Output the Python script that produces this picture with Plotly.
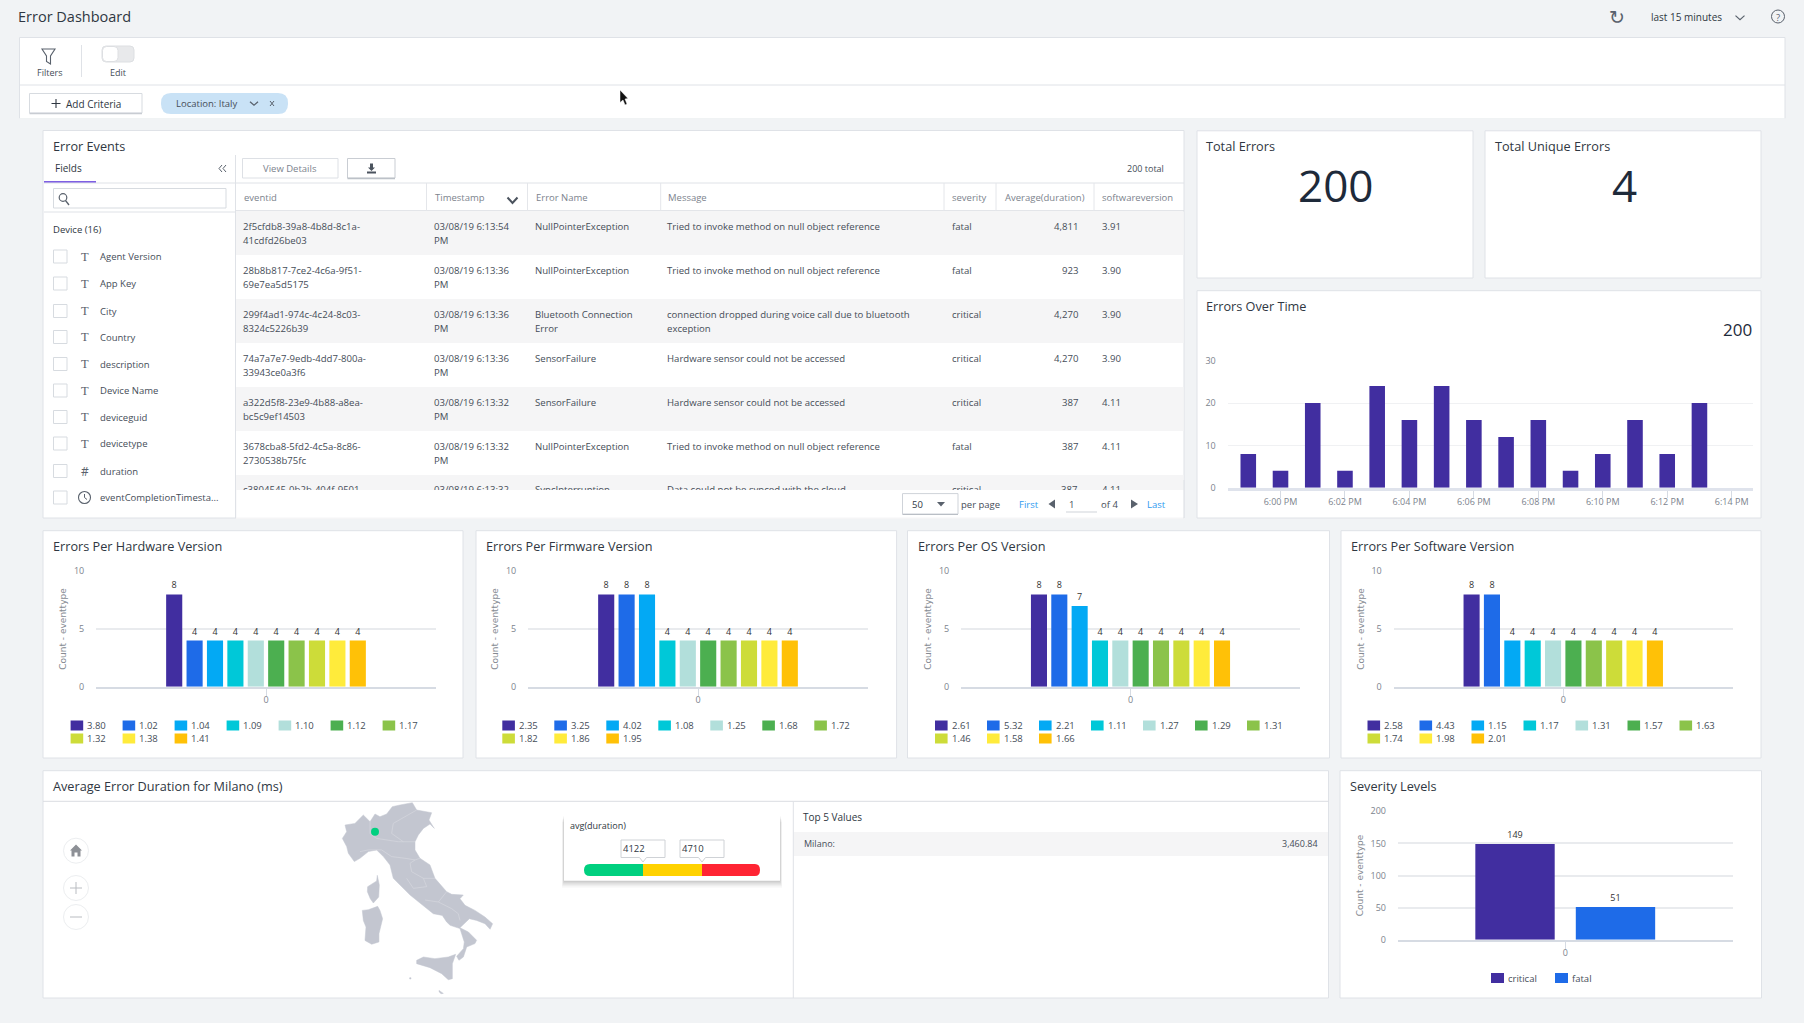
import plotly.graph_objects as go

# ---------- data ----------
PALETTE = ["#412ea0", "#1e6be8", "#03a9f4", "#00c8d8", "#b2dfdb", "#4caf50", "#8bc34a", "#cddc39", "#ffeb3b", "#ffc107"]

hw_versions = ["3.80", "1.02", "1.04", "1.09", "1.10", "1.12", "1.17", "1.32", "1.38", "1.41"]
hw_counts = [8, 4, 4, 4, 4, 4, 4, 4, 4, 4]
fw_versions = ["2.35", "3.25", "4.02", "1.08", "1.25", "1.68", "1.72", "1.82", "1.86", "1.95"]
fw_counts = [8, 8, 8, 4, 4, 4, 4, 4, 4, 4]
os_versions = ["2.61", "5.32", "2.21", "1.11", "1.27", "1.29", "1.31", "1.46", "1.58", "1.66"]
os_counts = [8, 8, 7, 4, 4, 4, 4, 4, 4, 4]
sw_versions = ["2.58", "4.43", "1.15", "1.17", "1.31", "1.57", "1.63", "1.74", "1.98", "2.01"]
sw_counts = [8, 8, 4, 4, 4, 4, 4, 4, 4, 4]

severity_levels = ["critical", "fatal"]
severity_counts = [149, 51]

time_minutes = ["17:59", "18:00", "18:01", "18:02", "18:03", "18:04", "18:05", "18:06",
                "18:07", "18:08", "18:09", "18:10", "18:11", "18:12", "18:13"]
time_counts = [8, 4, 20, 4, 24, 16, 24, 16, 12, 16, 4, 8, 16, 8, 20]

table_headers = ["eventid", "Timestamp", "Error Name", "Message", "severity", "Average(duration)", "softwareversion"]
event_ids = ["2f5cfdb8-39a8-4b8d-8c1a-<br>41cdfd26be03", "28b8b817-7ce2-4c6a-9f51-<br>69e7ea5d5175",
             "299f4ad1-974c-4c24-8c03-<br>8324c5226b39", "74a7a7e7-9edb-4dd7-800a-<br>33943ce0a3f6",
             "a322d5f8-23e9-4b88-a8ea-<br>bc5c9ef14503", "3678cba8-5fd2-4c5a-8c86-<br>2730538b75fc"]
timestamps = ["03/08/19 6:13:54<br>PM", "03/08/19 6:13:36<br>PM", "03/08/19 6:13:36<br>PM",
              "03/08/19 6:13:36<br>PM", "03/08/19 6:13:32<br>PM", "03/08/19 6:13:32<br>PM"]
error_names = ["NullPointerException", "NullPointerException", "Bluetooth Connection<br>Error",
               "SensorFailure", "SensorFailure", "NullPointerException"]
messages = ["Tried to invoke method on null object reference", "Tried to invoke method on null object reference",
            "connection dropped during voice call due to bluetooth<br>exception",
            "Hardware sensor could not be accessed", "Hardware sensor could not be accessed",
            "Tried to invoke method on null object reference"]
severities = ["fatal", "fatal", "critical", "critical", "critical", "fatal"]
durations = ["4,811", "923", "4,270", "4,270", "387", "387"]
sw_column = ["3.91", "3.90", "3.90", "3.90", "4.11", "4.11"]
clipped_row = ["c3804545-0b2b-404f-9501-", "03/08/19 6:13:32", "SyncInterruption",
               "Data could not be synced with the cloud", "critical", "387", "4.11"]

field_names = ["Agent Version", "App Key", "City", "Country", "description", "Device Name",
               "deviceguid", "devicetype", "duration", "eventCompletionTimesta..."]
field_kinds = ["T", "T", "T", "T", "T", "T", "T", "T", "#", "clock"]

duration_thresholds = ["4122", "4710"]
top_city = "Milano:"
top_value = "3,460.84"
milano_lon = [9.12]
milano_lat = [45.32]

# Map outlines in the map's own lon/lat scale
italy_lon = [6.55, 6.89, 6.76, 7.54, 8.2, 8.73, 9.12, 9.51, 10.04, 10.48, 11.09, 12.06, 12.4, 13.58, 13.37, 13.79,
             13.45, 12.93, 12.53, 12.27, 12.27, 12.66, 13.45, 13.84, 14.76, 15.16, 16.07, 15.81, 16.21, 16.99,
             17.78, 18.38, 18.18, 17.78, 17.12, 16.55, 15.81, 16.47, 17.12, 16.99, 16.34, 16.08, 15.73, 15.55,
             16.08, 16.15, 15.81, 15.03, 14.76, 14.42, 13.71, 13.06, 12.27, 11.88, 11.09, 10.56, 10.3, 9.78,
             9.25, 8.6, 7.94, 7.49, 7.02, 6.89, 6.55]
italy_lat = [44.92, 45.32, 45.72, 45.82, 46.32, 45.92, 46.38, 46.22, 46.38, 46.82, 46.92, 47.06, 46.62, 46.46, 46.02,
             45.52, 45.78, 45.52, 45.12, 44.72, 44.23, 43.73, 43.33, 42.53, 41.73, 41.57, 41.53, 41.31, 40.91,
             40.61, 40.21, 39.81, 39.48, 39.81, 40.01, 40.11, 39.57, 39.32, 38.82, 38.62, 38.42, 37.82, 37.62,
             37.86, 38.32, 38.72, 39.52, 39.72, 39.92, 40.31, 40.41, 40.81, 41.33, 41.53, 42.13, 42.53, 43.33,
             43.83, 44.23, 44.13, 43.73, 43.53, 44.03, 44.43, 44.92]
sicily_lon = [12.4, 12.93, 13.84, 14.89, 15.47, 15.21, 15.21, 14.89, 14.37, 13.45, 12.4, 12.4]
sicily_lat = [37.62, 37.82, 37.72, 37.82, 37.98, 37.42, 36.52, 36.46, 36.82, 37.18, 37.42, 37.62]
sardinia_lon = [8.12, 8.59, 9.33, 9.51, 9.72, 9.43, 9.43, 8.86, 8.33, 8.41, 8.2, 8.12]
sardinia_lat = [40.61, 40.65, 40.85, 40.61, 40.11, 39.21, 38.72, 38.58, 38.81, 39.61, 40.01, 40.61]
corsica_lon = [9.3, 9.46, 9.41, 9.22, 8.99, 8.75, 8.52, 8.54, 8.99, 9.25, 9.3]
corsica_lat = [42.71, 42.13, 41.41, 41.25, 41.05, 41.31, 41.73, 42.03, 42.23, 42.37, 42.71]
malta_lon = [14.16, 14.5, 14.32, 14.16, 14.16]
malta_lat = [35.82, 35.64, 35.62, 35.74, 35.82]
pantelleria_lon = [11.85, 11.95, 11.95, 11.85, 11.85]
pantelleria_lat = [36.58, 36.58, 36.5, 36.5, 36.58]
region_borders = [
    ([8.73, 8.73, 8.86, 9.25, 10.96, 12.27], [45.92, 45.22, 45.12, 44.92, 44.72, 44.72]),
    ([7.94, 8.6, 9.64, 10.43, 11.48, 12.27, 12.66], [44.13, 44.23, 44.23, 43.83, 43.73, 43.63, 43.73]),
    ([10.56, 11.74, 12.4], [45.82, 46.32, 46.62]),
    ([10.56, 10.43, 11.35], [45.82, 45.22, 44.72]),
    ([12.27, 11.88, 12.0, 12.93, 13.84], [43.63, 43.43, 42.93, 42.53, 42.53]),
    ([11.61, 12.14, 13.19, 12.93], [42.53, 41.93, 42.03, 42.53]),
    ([13.06, 14.11, 15.16, 15.68, 15.81], [41.23, 41.11, 40.71, 40.41, 40.01]),
    ([14.11, 14.76], [41.11, 41.73]),
]

# ---------- style ----------
FONT = "Open Sans"
BG = "#f1f3f5"
BORDER = "#dfe2e7"
DARK = "#2f3742"
TEXT = "#454d58"
MUTED = "#7c838d"
GRID = "#e9ebee"
AXIS = "#d6dbe3"
BLUE = "#2f9bf0"
TITLE_SIZE = 12.7

shapes = []
annotations = []


def rect(x0, y0, x1, y1, fill="white", line=None, width=1, layer="below"):
    shapes.append(dict(type="rect", xref="x", yref="y", x0=x0, y0=y0, x1=x1, y1=y1, fillcolor=fill,
                       line=dict(color=line or "rgba(0,0,0,0)", width=width if line else 0), layer=layer))


def rrect(x0, y0, x1, y1, r, fill="white", line=None, width=1, layer="below"):
    p = (f"M{x0+r},{y0}L{x1-r},{y0}Q{x1},{y0} {x1},{y0+r}L{x1},{y1-r}Q{x1},{y1} {x1-r},{y1}"
         f"L{x0+r},{y1}Q{x0},{y1} {x0},{y1-r}L{x0},{y0+r}Q{x0},{y0} {x0+r},{y0}Z")
    shapes.append(dict(type="path", xref="x", yref="y", path=p, fillcolor=fill,
                       line=dict(color=line or "rgba(0,0,0,0)", width=width if line else 0), layer=layer))


def hline(x0, x1, y, color=BORDER, width=1, layer="below"):
    shapes.append(dict(type="line", xref="x", yref="y", x0=x0, x1=x1, y0=y, y1=y,
                       line=dict(color=color, width=width), layer=layer))


def vline(x, y0, y1, color=BORDER, width=1, layer="below"):
    shapes.append(dict(type="line", xref="x", yref="y", x0=x, x1=x, y0=y0, y1=y1,
                       line=dict(color=color, width=width), layer=layer))


def path(d, fill="rgba(0,0,0,0)", line=None, width=1, layer="below"):
    shapes.append(dict(type="path", xref="x", yref="y", path=d, fillcolor=fill,
                       line=dict(color=line or "rgba(0,0,0,0)", width=width if line else 0), layer=layer))


def circle(cx, cy, r, fill="rgba(0,0,0,0)", line=None, width=1, layer="below"):
    shapes.append(dict(type="circle", xref="x", yref="y", x0=cx-r, x1=cx+r, y0=cy-r, y1=cy+r, fillcolor=fill,
                       line=dict(color=line or "rgba(0,0,0,0)", width=width if line else 0), layer=layer))


def txt(x, y, s, size=10, color=TEXT, anchor="left", font=FONT, angle=0, step=14):
    for i, part in enumerate(s.split("<br>")):
        annotations.append(dict(xref="x", yref="y", x=x, y=y + i * step, text=part, showarrow=False,
                                xanchor=anchor, yanchor="middle", textangle=angle, borderpad=0, borderwidth=0,
                                font=dict(family=font, size=size, color=color)))


def panel(x0, y0, x1, y1):
    rect(x0, y0, x1, y1, "white", BORDER, 1)


def chevron(cx, cy, w=4, h=3, color=TEXT, width=1.2, layer="below"):
    path(f"M{cx-w},{cy-h/2}L{cx},{cy+h/2}L{cx+w},{cy-h/2}", line=color, width=width, layer=layer)


# ---------- page chrome ----------
txt(18, 16, "Error Dashboard", 14.5, DARK)
txt(1617, 17, "↻", 19, "#59616c", "center", "DejaVu Sans")
txt(1651, 17, "last 15 minutes", 10, DARK)
chevron(1740, 17.6, 4.5, 4, "#59616c")
circle(1778, 16.5, 6.5, line="#59616c")
txt(1778, 17, "?", 9.5, "#59616c", "center")

rect(19.5, 37.5, 1785, 119, "white", BORDER)
shapes.append(dict(type="rect", xref="x", yref="y", x0=18, x1=1787, y0=118.2, y1=121, fillcolor=BG,
                   line=dict(width=0), layer="below"))
hline(19.5, 1785, 85)
path("M42,49H55L50.5,56V64L46.5,61.5V56Z", line="#59616c", width=1.1)
txt(49, 72.5, "Filters", 9, TEXT, "center")
vline(81.5, 45, 77)
rrect(102, 46, 134, 62, 4, "#e8e9eb", "#dddfe2")
rrect(102.5, 46.5, 118, 61.5, 4, "white", "#dddfe2")
txt(118, 72.5, "Edit", 9, TEXT, "center")
rect(29.5, 93.5, 142, 113, "white", "#d7dbe0")
hline(29.5, 142, 113.5, "#c8ccd2", 1.4)
path("M56,99V108M51.5,103.5H60.5", line=DARK, width=1.1)
txt(66, 103.5, "Add Criteria", 10, DARK)
rrect(161, 93, 288, 114, 10, "#c9e2f6")
txt(176, 103.5, "Location: Italy", 9.5, TEXT)
chevron(254, 103.5, 4, 3.5, "#59616c", 1.3)
path("M270,101L274,106M274,101L270,106", line="#59616c", width=1)
path("M620,90L620,102.5L623,100L625,105L627,104L625,99L628,98.5Z", "#111111", "#ffffff", 0.5, layer="above")

# ---------- error events panel ----------
panel(43, 130.5, 1184, 518)
txt(53, 146, "Error Events", TITLE_SIZE, DARK)
txt(55, 168, "Fields", 10, DARK)
hline(44, 96, 182, "#7e5fe3", 2)
hline(44, 235, 183, BORDER)
path("M222,165L219,168.5L222,172M226,165L223,168.5L226,172", line="#59616c", width=1)
vline(235.5, 155, 518, BORDER)
rect(53.5, 188.5, 226, 208, "white", "#d7dbe0")
circle(63, 197.5, 3.8, line="#59616c", width=1.2)
path("M65.5,200.5L69,205", line="#59616c", width=1.3)
hline(44, 235, 212)
txt(53, 229.6, "Device (16)", 9.5, DARK)
field_ys = [256.5, 283.5, 311, 337, 364, 390.5, 417, 443.5, 471, 497.5]
for fname, kind, fy in zip(field_names, field_kinds, field_ys):
    rect(53.5, fy - 6.5, 67, fy + 6.5, "white", "#d7dbe0")
    if kind == "T":
        txt(84.5, fy, "T", 12.5, "#59616c", "center", "Liberation Serif")
    elif kind == "#":
        txt(84.5, fy, "#", 12, "#59616c", "center")
    else:
        circle(84.5, fy, 6, line="#59616c", width=1.1)
        path(f"M84.5,{fy-3.5}V{fy}L87,{fy+2}", line="#59616c", width=1)
    txt(100, fy, fname, 9.5, TEXT)

rect(242.5, 158.5, 338, 178, "white", "#dde0e5")
txt(290, 168, "View Details", 9.5, MUTED, "center")
rect(347.5, 158.5, 395, 178, "white", "#c9cdd3")
hline(347.5, 395, 178.5, "#bcc1c8", 1.3)
path("M370,163.5H373V167.5H375L371.5,171L368,167.5H370ZM367,171.5H376V173.5H367Z", "#4b535e")
txt(1164, 168.4, "200 total", 9, TEXT, "right")

HEADER_X = [244, 434.5, 536, 668, 952, 1005, 1102]
COLUMN_LINES = [426.5, 527.5, 660.7, 944, 996, 1094]
CELL_X = [243, 434, 535, 667, 952, 1077.5, 1102]
CELL_ANCHOR = ["left", "left", "left", "left", "left", "right", "left"]
hline(236, 1184, 183)
hline(236, 1184, 211, "#dadde2", 1.3)
for cx in COLUMN_LINES:
    vline(cx, 183, 211, "#e4e6ea")
for hx, h in zip(HEADER_X, table_headers):
    txt(hx, 197.5, h, 9.5, MUTED)
path("M507.5,197.5L512.5,203L517.5,197.5", line="#4b535e", width=2)

ROW_TOP = 211
ROW_H = 44
for i in range(7):
    if i % 2 == 0:
        rect(236, ROW_TOP + i * ROW_H, 1183.5, ROW_TOP + (i + 1) * ROW_H, "#f5f5f6")
columns = [event_ids, timestamps, error_names, messages, severities, durations, sw_column]
for i in range(6):
    for col, cx, an in zip(columns, CELL_X, CELL_ANCHOR):
        txt(cx, 226.7 + i * ROW_H, col[i], 9.6, TEXT, an)

# white band hides the lower half of the seventh, partly scrolled row
rect(236.5, 490, 1183.5, 517.5, "white", layer="above")
vline(1184, 480, 518, layer="above")
rect(902.5, 493.6, 958, 514, "white", "#cfd3d9", layer="above")
hline(902.5, 958, 514.5, "#b9bec5", 1.2, layer="above")
txt(912, 504, "50", 9.5, DARK)
path("M937,502H945L941,506.5Z", "#59616c", layer="above")
txt(961, 504, "per page", 9.5, TEXT)
txt(1019, 504, "First", 9.5, BLUE)
path("M1055,499.5V508.5L1048.5,504Z", "#59616c", layer="above")
txt(1069, 504, "1", 9.5, TEXT)
hline(1066, 1097, 512, "#cfd3d9", layer="above")
txt(1101, 504, "of 4", 9.5, TEXT)
path("M1131,499.5V508.5L1138,504Z", "#59616c", layer="above")
txt(1147, 504, "Last", 9.5, BLUE)

# ---------- KPI panels ----------
panel(1197, 130.8, 1473, 278)
txt(1206, 146.4, "Total Errors", TITLE_SIZE, DARK)
txt(1335, 185.3, "200", 44, "#1e2a3a", "center")
panel(1485, 130.8, 1761, 278)
txt(1495, 146.4, "Total Unique Errors", TITLE_SIZE, DARK)
txt(1624, 185.3, "4", 44, "#1e2a3a", "center")

panel(1197, 290.7, 1761, 518)
txt(1206, 305.6, "Errors Over Time", TITLE_SIZE, DARK)
txt(1751.5, 329.6, "200", 17, "#1e2a3a", "right")

# ---------- figure ----------
W, H = 1804, 1023
fig = go.Figure()


def xdom(a, b):
    return [a / W, b / W]


def ydom(top, bottom):
    return [1 - bottom / H, 1 - top / H]


layout_axes = {}
layout_axes["xaxis"] = dict(domain=[0, 1], range=[0, W], visible=False, fixedrange=True, automargin=False)
layout_axes["yaxis"] = dict(domain=[0, 1], range=[H, 0], visible=False, fixedrange=True, automargin=False)

# clipped seventh row, drawn as a trace so the white band can cover it
fig.add_trace(go.Scatter(x=CELL_X, y=[ROW_TOP + 6 * ROW_H + 15.7] * 7, text=clipped_row, mode="text",
                         xaxis="x", yaxis="y",
                         textposition=["middle right" if an == "left" else "middle left" for an in CELL_ANCHOR],
                         textfont=dict(family=FONT, size=9.6, color=TEXT), hoverinfo="skip", showlegend=False))


def style_y(ax_range, dtick, gridw=1.5, grid=GRID, title=None):
    d = dict(range=ax_range, dtick=dtick, showgrid=True, gridcolor=grid, gridwidth=gridw, zeroline=False,
             showline=False, ticks="outside", ticklen=9, tickcolor="rgba(0,0,0,0)", automargin=False,
             tickfont=dict(family=FONT, size=9, color=MUTED), fixedrange=True)
    if title:
        d["title"] = dict(text=title, font=dict(family="DejaVu Sans", size=9, color="#858a92"), standoff=5)
    return d


def version_chart(idx, panel_x0, panel_x1, title, labels, counts, plot_x0, plot_x1, swatch_x):
    panel(panel_x0, 530.7, panel_x1, 758)
    txt(panel_x0 + 10, 545.7, title, TITLE_SIZE, DARK)
    xname, yname = f"xaxis{idx}", f"yaxis{idx}"
    layout_axes[xname] = dict(domain=xdom(plot_x0, plot_x1), range=[-0.5, 0.5], anchor=f"y{idx}", tickvals=[0],
                              ticktext=["0"], showgrid=False, zeroline=False, showline=True, linecolor=AXIS,
                              linewidth=2, ticks="outside", ticklen=7, tickcolor=AXIS, automargin=False,
                              ticklabelstandoff=-4,
                              tickfont=dict(family=FONT, size=9, color=MUTED), fixedrange=True)
    layout_axes[yname] = dict(domain=ydom(571.3, 686.7), anchor=f"x{idx}",
                              **style_y([0, 10], 5, title="Count - eventtype"))
    for j, (lab, c) in enumerate(zip(labels, counts)):
        fig.add_trace(go.Bar(x=[0], y=[c], name=lab, marker=dict(color=PALETTE[j], line=dict(width=0)),
                             text=[str(c)], textposition="outside", cliponaxis=False,
                             textfont=dict(family=FONT, size=9, color="#333333"),
                             xaxis=f"x{idx}", yaxis=f"y{idx}", showlegend=False))
        row = 0 if j < 7 else 1
        col = j if j < 7 else j - 7
        lx = swatch_x + col * 52
        ly = 725.5 + row * 13
        rect(lx, ly - 5, lx + 12.6, ly + 5, PALETTE[j])
        txt(lx + 16.5, ly, lab, 9.5, TEXT)


version_chart(2, 43, 463, "Errors Per Hardware Version", hw_versions, hw_counts, 96, 436, 70.6)
version_chart(3, 476, 896.6, "Errors Per Firmware Version", fw_versions, fw_counts, 528, 868, 502.3)
version_chart(4, 907.5, 1329.5, "Errors Per OS Version", os_versions, os_counts, 961, 1300, 935)
version_chart(5, 1341, 1761, "Errors Per Software Version", sw_versions, sw_counts, 1393.5, 1733, 1367.5)

# errors over time
layout_axes["xaxis6"] = dict(domain=xdom(1227.5, 1753), anchor="y6", type="date",
                             range=["2019-03-08 17:58:21.3", "2019-03-08 18:14:39.7"],
                             dtick=120000, tick0="2019-03-08 18:00:00", tickformat="%-I:%M %p",
                             showgrid=False, zeroline=False, showline=True, linecolor="#dfe3ec", linewidth=3,
                             ticks="outside", ticklen=7, tickcolor=AXIS, automargin=False, ticklabelstandoff=-4,
                             tickfont=dict(family=FONT, size=9, color=MUTED), fixedrange=True)
layout_axes["yaxis6"] = dict(domain=ydom(360.7, 487.8), anchor="x6", **style_y([0, 30], 10, 1, "#f0f1f3"))
fig.add_trace(go.Bar(x=["2019-03-08 " + m for m in time_minutes], y=time_counts, width=29000,
                     marker=dict(color=PALETTE[0], line=dict(width=0)), xaxis="x6", yaxis="y6",
                     name="errors", showlegend=False))

# severity
panel(1340, 770.7, 1761.5, 998)
txt(1350, 785.7, "Severity Levels", TITLE_SIZE, DARK)
layout_axes["xaxis7"] = dict(domain=xdom(1397.8, 1732.7), anchor="y7", range=[-0.5, 0.5], tickvals=[0], ticktext=["0"],
                             showgrid=False, zeroline=False, showline=True, linecolor=AXIS, linewidth=2,
                             ticks="outside", ticklen=7, tickcolor=AXIS, automargin=False, ticklabelstandoff=-4,
                             tickfont=dict(family=FONT, size=9, color=MUTED), fixedrange=True)
layout_axes["yaxis7"] = dict(domain=ydom(811.3, 939.7), anchor="x7",
                             **style_y([0, 200], 50, title="Count - eventtype"))
SEV_LEGEND_X = [1491, 1555]
for j, (lab, c) in enumerate(zip(severity_levels, severity_counts)):
    fig.add_trace(go.Bar(x=[0], y=[c], name=lab, marker=dict(color=PALETTE[j], line=dict(width=0)),
                         text=[str(c)], textposition="outside", cliponaxis=False,
                         textfont=dict(family=FONT, size=9, color="#333333"),
                         xaxis="x7", yaxis="y7", showlegend=False))
    rect(SEV_LEGEND_X[j], 973, SEV_LEGEND_X[j] + 13, 983, PALETTE[j])
    txt(SEV_LEGEND_X[j] + 17, 978, lab, 9.5, TEXT)

# map panel
panel(43, 770.7, 1328.5, 998)
hline(43, 1328.5, 801.3, "#dadde2")
txt(53, 785.7, "Average Error Duration for Milano (ms)", TITLE_SIZE, DARK)
vline(793.3, 801.3, 998)
txt(803, 817, "Top 5 Values", 10, DARK)
rect(794, 832, 1328, 856, "#f5f5f6")
txt(804, 843.5, top_city, 9, TEXT)
txt(1318, 843.5, top_value, 9, TEXT, "right")

for cy in (850.7, 888, 917):
    circle(76, cy, 12.5, "white", "#eceef0")
path("M76,844.5L82,850.5H80.5V856.5H77.5V852.5H74.5V856.5H71.5V850.5H70Z", "#8d9096")
path("M76,882V894M70,888H82", line="#b9bcc1", width=1)
path("M70,917H82", line="#b9bcc1", width=1)

MAP_COLOR = "#c3c6d0"
LON0, LON_PX = 6.6, 12.7
LAT0, LAT_PX = 47.1, 16.7
map_w = 200
map_h = 196
layout_axes["xaxis8"] = dict(domain=xdom(330, 330 + map_w), anchor="y8", visible=False, fixedrange=True,
                             automargin=False, range=[LON0 - 13 / LON_PX, LON0 + (map_w - 13) / LON_PX])
layout_axes["yaxis8"] = dict(domain=ydom(800, 800 + map_h), anchor="x8", visible=False, fixedrange=True,
                             automargin=False, range=[LAT0 + 2 / LAT_PX - map_h / LAT_PX, LAT0 + 2 / LAT_PX])
for name, lo, la in [("Italy", italy_lon, italy_lat), ("Sicily", sicily_lon, sicily_lat),
                     ("Sardinia", sardinia_lon, sardinia_lat), ("Corsica", corsica_lon, corsica_lat),
                     ("Malta", malta_lon, malta_lat), ("Pantelleria", pantelleria_lon, pantelleria_lat)]:
    fig.add_trace(go.Scatter(x=lo, y=la, mode="lines", fill="toself", fillcolor=MAP_COLOR,
                             line=dict(color=MAP_COLOR, width=0.5), xaxis="x8", yaxis="y8",
                             name=name, showlegend=False, hoverinfo="skip"))
for lo, la in region_borders:
    fig.add_trace(go.Scatter(x=lo, y=la, mode="lines", line=dict(color="#d5d7de", width=0.7), xaxis="x8", yaxis="y8",
                             showlegend=False, hoverinfo="skip"))
fig.add_trace(go.Scatter(x=milano_lon, y=milano_lat, mode="markers", name="Milano",
                         marker=dict(color="#00d07f", size=8), xaxis="x8", yaxis="y8", showlegend=False))

# threshold legend card
for off, alpha in [(7, 0.03), (5.5, 0.05), (4, 0.06), (2.5, 0.08), (1, 0.08)]:
    rect(564 - off * 0.3, 815 + off, 780 + off * 0.3, 880.7 + off, f"rgba(60,60,60,{alpha})")
rect(564, 815, 780, 880.7, "white")
txt(570, 825, "avg(duration)", 9, DARK)
for bx0, label in zip((621, 680), duration_thresholds):
    bx1 = bx0 + 44
    mid = (bx0 + bx1) / 2
    path(f"M{bx0},840H{bx1}V857.5H{mid+3.5}L{mid},862L{mid-3.5},857.5H{bx0}Z", "white", "#cfd2d6")
    txt(bx0 + 2, 848.5, label, 9.5, DARK)
path("M590,864H643V876H590Q584,876 584,870Q584,864 590,864Z", "#00d07f")
rect(643, 864, 702, 876, "#ffd200")
path("M702,864H755Q760,864 760,870Q760,876 755,876H702Z", "#ff2433")

fig.update_layout(
    template="none",
    width=W, height=H, autosize=False, margin=dict(l=0, r=0, t=0, b=0, pad=0, autoexpand=False),
    paper_bgcolor=BG, plot_bgcolor="rgba(0,0,0,0)",
    barmode="group", bargap=0.40, bargroupgap=0.21,
    shapes=shapes, annotations=annotations, showlegend=False,
    font=dict(family=FONT, color=TEXT), **layout_axes,
)

fig.write_html("out.html", config=dict(displayModeBar=False, responsive=False),
               post_script="document.body.style.margin='0';document.body.style.overflow='hidden';")
